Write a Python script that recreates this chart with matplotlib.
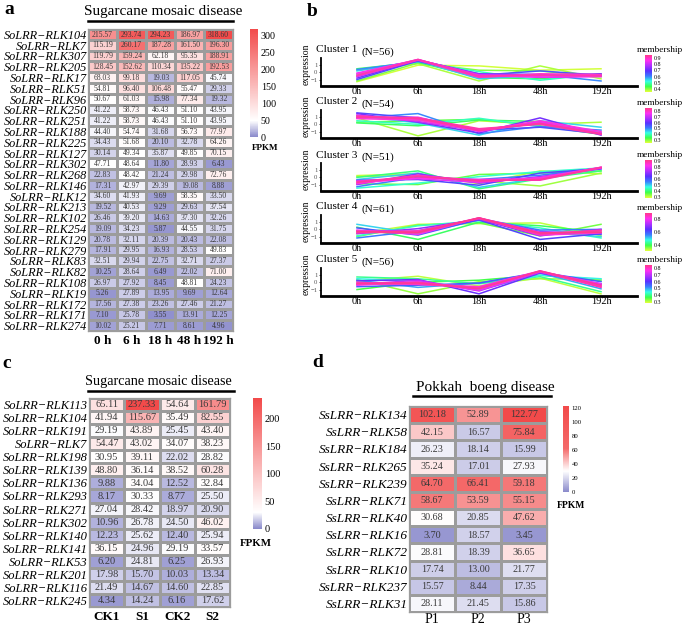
import matplotlib
matplotlib.use("Agg")
import matplotlib.pyplot as plt
import numpy as np
from matplotlib.colors import LinearSegmentedColormap, Normalize
from matplotlib.lines import Line2D

plt.rcParams['font.family'] = ['Liberation Serif', 'DejaVu Serif']

# ---------------- data ----------------
# panel a: Sugarcane mosaic disease time course (FPKM)
a_genes = ['SoLRR−RLK104', 'SoLRR−RLK7', 'SoLRR−RLK307', 'SoLRR−RLK205', 'SoLRR−RLK17',
           'SoLRR−RLK51', 'SoLRR−RLK96', 'SoLRR−RLK250', 'SoLRR−RLK251', 'SoLRR−RLK188',
           'SoLRR−RLK225', 'SoLRR−RLK127', 'SoLRR−RLK302', 'SoLRR−RLK268', 'SoLRR−RLK146',
           'SoLRR−RLK12', 'SoLRR−RLK213', 'SoLRR−RLK102', 'SoLRR−RLK254', 'SoLRR−RLK129',
           'SoLRR−RLK279', 'SoLRR−RLK83', 'SoLRR−RLK82', 'SoLRR−RLK108', 'SoLRR−RLK19',
           'SoLRR−RLK172', 'SoLRR−RLK171', 'SoLRR−RLK274']
a_times = ['0 h', '6 h', '18 h', '48 h', '192 h']
a_fpkm = [
    [215.57, 293.74, 294.23, 186.97, 318.60],
    [115.19, 260.17, 187.28, 161.50, 196.30],
    [119.79, 159.24, 62.18, 95.35, 188.91],
    [128.45, 152.62, 110.34, 135.22, 192.53],
    [68.03, 99.18, 19.03, 117.05, 45.74],
    [54.81, 96.40, 106.48, 55.47, 29.33],
    [50.67, 61.03, 15.98, 77.34, 19.32],
    [41.22, 58.73, 46.43, 51.10, 43.95],
    [41.22, 58.73, 46.43, 51.10, 43.95],
    [44.40, 54.74, 31.68, 56.73, 77.97],
    [34.43, 51.68, 20.10, 32.78, 64.26],
    [30.14, 49.34, 35.87, 49.85, 70.15],
    [47.71, 48.64, 11.80, 28.93, 6.43],
    [22.83, 48.42, 21.24, 29.98, 72.76],
    [17.31, 42.97, 29.39, 19.08, 8.88],
    [34.60, 41.93, 9.69, 58.35, 33.50],
    [19.52, 40.53, 9.29, 29.63, 37.54],
    [26.46, 39.20, 14.63, 37.30, 32.26],
    [19.09, 34.23, 5.87, 44.55, 31.75],
    [20.78, 32.11, 20.39, 20.43, 22.08],
    [17.91, 29.95, 16.93, 28.53, 49.83],
    [32.51, 29.94, 22.75, 32.71, 27.37],
    [10.25, 28.64, 6.49, 22.02, 71.00],
    [26.97, 27.92, 8.45, 48.81, 24.23],
    [5.26, 27.89, 13.95, 9.69, 12.64],
    [17.56, 27.38, 23.26, 27.46, 21.27],
    [7.10, 25.78, 3.55, 13.91, 12.25],
    [10.02, 25.21, 7.71, 8.61, 4.96],
]

# panel c: Sugarcane mosaic disease, control vs infected
c_genes = ['SoLRR−RLK113', 'SoLRR−RLK104', 'SoLRR−RLK191', 'SoLRR−RLK7', 'SoLRR−RLK198',
           'SoLRR−RLK139', 'SoLRR−RLK136', 'SoLRR−RLK293', 'SoLRR−RLK271', 'SoLRR−RLK302',
           'SoLRR−RLK140', 'SoLRR−RLK141', 'SoLRR−RLK53', 'SoLRR−RLK201', 'SoLRR−RLK116',
           'SoLRR−RLK245']
c_samples = ['CK1', 'S1', 'CK2', 'S2']
c_fpkm = [
    [65.11, 237.33, 54.64, 161.79],
    [41.94, 115.67, 35.49, 82.55],
    [29.19, 43.89, 25.45, 43.40],
    [54.47, 43.02, 34.07, 38.23],
    [30.95, 39.11, 22.02, 28.82],
    [48.80, 36.14, 38.52, 60.28],
    [9.88, 34.04, 12.52, 32.84],
    [8.17, 30.33, 8.77, 25.50],
    [27.04, 28.42, 18.97, 20.90],
    [10.96, 26.78, 24.50, 46.02],
    [12.23, 25.62, 12.40, 25.94],
    [36.15, 24.96, 29.19, 33.57],
    [6.20, 24.81, 6.25, 26.93],
    [17.98, 15.70, 10.03, 13.34],
    [21.49, 14.67, 14.60, 22.85],
    [4.34, 14.24, 6.16, 17.62],
]

# panel d: Pokkah boeng disease
d_genes = ['SsLRR−RLK134', 'SsLRR−RLK58', 'SsLRR−RLK184', 'SsLRR−RLK265', 'SsLRR−RLK239',
           'SsLRR−RLK71', 'SsLRR−RLK40', 'SsLRR−RLK16', 'SsLRR−RLK72', 'SsLRR−RLK10',
           'SsLRR−RLK237', 'SsLRR−RLK31']
d_samples = ['P1', 'P2', 'P3']
d_fpkm = [
    [102.18, 52.89, 122.77],
    [42.15, 16.57, 75.84],
    [26.23, 18.14, 15.99],
    [35.24, 17.01, 27.93],
    [64.70, 66.41, 59.18],
    [58.67, 53.59, 55.15],
    [30.68, 20.85, 47.62],
    [3.70, 18.57, 3.45],
    [28.81, 18.39, 36.65],
    [17.74, 13.00, 21.77],
    [15.57, 8.44, 17.35],
    [28.11, 21.45, 15.86],
]

# panel b: mfuzz clusters (representative profiles, standardised expression)
b_times = ['0h', '6h', '18h', '48h', '192h']
b_counts = [56, 54, 51, 61, 56]
b_ranges = [(0.35, 0.95), (0.25, 0.85), (0.28, 0.92), (0.30, 0.90), (0.28, 0.85)]
b_ticks = [[0.4, 0.5, 0.6, 0.7, 0.8, 0.9], [0.3, 0.4, 0.5, 0.6, 0.7, 0.8],
           [0.3, 0.4, 0.5, 0.6, 0.7, 0.8, 0.9], [0.4, 0.6, 0.8], [0.3, 0.4, 0.5, 0.6, 0.7, 0.8]]

cl1_lines = [[-0.4, 1.8, -0.5, -0.4, -0.5], [-0.2, 1.8, -0.6, -0.5, -0.5], [-0.6, 1.75, -0.3, -0.3, -0.55],
             [-0.8, 1.7, -0.2, -0.5, -0.2], [-1.0, 1.6, -0.4, 0.2, -0.4], [0.2, 1.6, -0.9, -0.4, -0.5],
             [-0.3, 1.5, 0.1, -1.1, -0.2], [0.5, 1.4, -0.7, -0.9, -0.3], [-1.2, 1.3, 0.3, 0.2, -0.6],
             [-1.3, 1.0, 0.9, 0.3, 0.5], [0.3, 1.2, -1.2, 0.9, -0.9], [-0.5, 1.7, -0.7, -0.2, -0.3],
             [-0.1, 1.75, -0.4, -0.7, -0.6], [0.4, 1.5, -0.2, -0.3, -1.2]]
cl1_member = [0.92, 0.87, 0.8, 0.72, 0.65, 0.56, 0.5, 0.45, 0.4, 0.36, 0.38, 0.9, 0.84, 0.6]

cl2_lines = [[1.0, 0.85, -0.85, 0.15, -1.3], [1.2, 0.7, -0.7, 0.1, -1.3], [0.9, 1.0, -1.0, 0.3, -1.2],
             [1.3, 0.4, -0.9, 0.4, -1.3], [1.5, 0.3, -1.2, 0.9, -1.5], [1.6, 0.9, -0.8, -0.4, -1.3],
             [0.9, 1.5, -1.3, -0.3, -0.8], [1.2, 0.2, -1.5, 0.5, -0.4], [0.5, 0.0, 0.85, -0.3, -1.1],
             [0.2, -0.2, 0.6, 0.4, -1.2], [0.9, -1.6, 0.5, 0.0, 0.3], [0.3, 0.5, 0.7, -0.2, -1.4],
             [1.1, 0.9, -0.6, 0.0, -1.4], [0.8, 0.6, -0.9, 0.5, -1.0]]
cl2_member = [0.83, 0.8, 0.75, 0.7, 0.62, 0.56, 0.5, 0.45, 0.4, 0.35, 0.28, 0.32, 0.82, 0.78]

cl3_lines = [[-0.7, 0.1, -0.5, -0.3, 1.4], [-0.9, 0.3, -0.6, -0.1, 1.3], [-0.5, -0.2, -0.7, 0.0, 1.4],
             [-1.0, 0.5, -0.8, 0.1, 1.2], [-0.4, -0.3, -1.1, 0.6, 1.2], [-1.3, 0.0, -0.3, 0.3, 1.3],
             [-0.3, 0.6, -1.4, -0.1, 1.2], [-1.5, -0.8, 0.1, 0.8, 1.3], [0.0, 0.9, -1.6, -0.2, 0.9],
             [-0.9, -1.0, 0.4, 0.6, 0.9], [0.25, 0.5, -0.9, 0.9, 0.5], [0.1, 0.3, -0.5, -1.2, 0.6],
             [-0.6, 0.2, -0.4, -0.4, 1.35], [-0.8, -0.1, -0.3, -0.2, 1.4]]
cl3_member = [0.9, 0.85, 0.8, 0.7, 0.62, 0.55, 0.5, 0.45, 0.4, 0.35, 0.3, 0.32, 0.88, 0.83]

cl4_lines = [[-0.3, -0.4, 1.6, -0.5, -0.4], [-0.5, -0.2, 1.5, -0.7, -0.1], [-0.1, -0.7, 1.6, -0.4, -0.4],
             [-0.6, 0.1, 1.4, -0.9, 0.0], [-0.2, -0.3, 1.3, -1.4, -0.6], [-1.2, -0.2, 1.5, -0.1, 0.0],
             [0.7, -0.6, 1.3, -0.4, -1.0], [-0.9, 0.5, 1.2, 0.2, -1.2], [0.3, -1.4, 1.0, 0.5, -0.4],
             [-1.0, 0.6, 0.9, -0.9, 0.7], [-0.6, 0.7, 0.8, 0.9, -0.9], [-0.4, -0.5, 1.55, -0.6, -0.2],
             [-0.2, -0.3, 1.6, -0.8, -0.5], [0.2, -0.8, 1.4, -0.3, -0.7]]
cl4_member = [0.9, 0.86, 0.8, 0.7, 0.62, 0.56, 0.5, 0.45, 0.4, 0.36, 0.32, 0.88, 0.84, 0.6]

cl5_lines = [[-0.2, -0.1, -0.9, 1.6, -0.4], [0.0, -0.3, -0.7, 1.5, -0.6], [-0.4, 0.1, -1.1, 1.5, -0.2],
             [-0.3, 0.3, -1.2, 1.4, -0.3], [0.2, 0.4, -1.6, 1.3, -0.2], [-0.6, -0.4, -0.1, 1.4, 0.1],
             [0.3, -0.7, -0.1, 1.3, -0.9], [0.5, 0.2, -1.0, 1.0, 0.5], [0.75, 0.5, -0.2, 0.8, -1.3],
             [-1.0, 0.0, 0.3, 1.0, 0.2], [0.2, 0.85, -0.5, 0.6, -1.6], [0.4, -1.6, 0.1, 0.5, 0.4],
             [-0.1, 0.0, -0.8, 1.55, -0.7], [-0.3, -0.2, -0.6, 1.6, -0.5]]
cl5_member = [0.84, 0.8, 0.75, 0.7, 0.62, 0.56, 0.5, 0.45, 0.4, 0.36, 0.3, 0.32, 0.82, 0.78]

b_lines = [cl1_lines, cl2_lines, cl3_lines, cl4_lines, cl5_lines]
b_member = [cl1_member, cl2_member, cl3_member, cl4_member, cl5_member]

# ---------------- layout helpers (pixel coords, origin top-left) ----------------
W, H = 685, 625
fig = plt.figure(figsize=(W / 100, H / 100), dpi=100)


def box(x0, y0, x1, y1):
    return [x0 / W, 1 - y1 / H, (x1 - x0) / W, (y1 - y0) / H]


def ftext(x, y, s, **kw):
    fig.text(x / W, 1 - y / H, s, **kw)


def underline(x0, x1, y, lw=1.8):
    fig.add_artist(Line2D([x0 / W, x1 / W], [1 - y / H, 1 - y / H],
                          transform=fig.transFigure, color='k', lw=lw))


LOW, WHITE, HIGH = '#8a8acb', '#ffffff', '#f24a4a'


def heat_cmap(vmax, mid, extra=None):
    nodes = [(0.0, LOW), (mid / vmax, WHITE)]
    if extra:
        nodes += [(v / vmax, c) for v, c in extra]
    nodes.append((1.0, HIGH))
    return LinearSegmentedColormap.from_list('h', nodes)


def heatmap(rect, data, rows, cols, cmap, vmax, cell_fs, row_fs, col_fs, col_bold, col_pad):
    ax = fig.add_axes(rect)
    arr = np.array(data)
    norm = Normalize(0, vmax)
    mesh = ax.pcolormesh(arr, cmap=cmap, norm=norm, edgecolors='#9c9c9c', linewidth=0.9)
    ax.set_xlim(0, arr.shape[1])
    ax.set_ylim(arr.shape[0], 0)
    for i in range(arr.shape[0]):
        for j in range(arr.shape[1]):
            ax.text(j + 0.5, i + 0.52, f'{arr[i, j]:.2f}', ha='center', va='center',
                    fontsize=cell_fs, color='#3a3a3a')
    ax.set_yticks(np.arange(arr.shape[0]) + 0.5)
    ax.set_yticklabels(rows, fontsize=row_fs, fontstyle='italic')
    ax.set_xticks(np.arange(arr.shape[1]) + 0.5)
    ax.set_xticklabels(cols, fontsize=col_fs, fontweight='bold' if col_bold else 'normal')
    ax.tick_params(axis='y', length=0, pad=1)
    ax.tick_params(axis='x', length=0, pad=col_pad)
    for s in ax.spines.values():
        s.set_color('#9c9c9c')
        s.set_linewidth(0.9)
    return mesh


def heat_colorbar(mesh, rect, ticks, fs):
    cax = fig.add_axes(rect)
    cb = fig.colorbar(mesh, cax=cax, ticks=ticks)
    cb.outline.set_visible(False)
    cax.tick_params(length=0, labelsize=fs, pad=2)
    return cb


# ---------------- panel a ----------------
ftext(9, 10, 'a', fontsize=14, fontweight='bold', ha='center', va='center')
ftext(163, 12, 'Sugarcane mosaic disease', fontsize=11, ha='center', va='center')
underline(88, 233, 21)
cmap_a = heat_cmap(318.6, 48)
mesh_a = heatmap(box(88, 29, 233, 331), a_fpkm, a_genes, a_times, cmap_a, 318.6,
                 5.5, 8.8, 9.5, True, 3)
heat_colorbar(mesh_a, box(250, 29, 258, 137), [0, 50, 100, 150, 200, 250, 300], 7.2)
ftext(265, 148, 'FPKM', fontsize=6.5, fontweight='bold', ha='center', va='center')

# ---------------- panel c ----------------
ftext(7, 364, 'c', fontsize=14, fontweight='bold', ha='center', va='center')
ftext(158, 382, 'Sugarcane mosaic disease', fontsize=10.2, ha='center', va='center')
underline(88, 234, 391)
cmap_c = heat_cmap(237.33, 30)
mesh_c = heatmap(box(89, 398, 230, 607), c_fpkm, c_genes, c_samples, cmap_c, 237.33,
                 7.5, 9, 9.5, True, 3)
heat_colorbar(mesh_c, box(253, 398, 262, 529), [0, 50, 100, 150, 200], 7.5)
ftext(256, 543, 'FPKM', fontsize=7.8, fontweight='bold', ha='center', va='center')

# ---------------- panel d ----------------
ftext(318, 362, 'd', fontsize=14, fontweight='bold', ha='center', va='center')
ftext(485, 387, 'Pokkah  boeng disease', fontsize=11, ha='center', va='center')
underline(413, 551, 396)
cmap_d = heat_cmap(122.77, 30, extra=[(62, '#f46a6a')])
mesh_d = heatmap(box(409, 406, 547, 612), d_fpkm, d_genes, d_samples, cmap_d, 122.77,
                 7.3, 9.5, 10, False, 1)
heat_colorbar(mesh_d, box(563, 406, 569, 492), [0, 20, 40, 60, 80, 100, 120], 4.8)
ftext(571, 505, 'FPKM', fontsize=6.9, fontweight='bold', ha='center', va='center')

# ---------------- panel b ----------------
ftext(312, 11, 'b', fontsize=14, fontweight='bold', ha='center', va='center')
mem_cmap = LinearSegmentedColormap.from_list(
    'mem', ['#e4ff3a', '#3cff4a', '#35ffe6', '#3a7dff', '#5a30ff', '#b030ff', '#ff30f0', '#ff3a8c'])
axis_bottoms = [86, 138, 191, 243, 296]
cb_spans = [(55, 92), (108, 143), (160, 198), (213, 251), (265, 303)]

for k in range(5):
    yb = axis_bottoms[k]
    ax = fig.add_axes(box(321, yb - 28, 637, yb))
    lo, hi = b_ranges[k]
    norm = Normalize(lo, hi)
    order = np.argsort(b_member[k])
    for idx in order:
        ax.plot(range(5), b_lines[k][idx], color=mem_cmap(norm(b_member[k][idx])), lw=1.1,
                solid_joinstyle='miter')
    ax.set_xlim(-0.59, 4.59)
    ax.set_ylim(-1.9, 2.0)
    ax.set_xticks(range(5))
    ax.set_xticklabels(b_times, fontsize=7.5)
    ax.set_yticks([-1, 0, 1])
    ax.set_yticklabels(['−1', '0', '1'], fontsize=4.8, color='#555555')
    ax.tick_params(axis='x', length=0, pad=1)
    ax.tick_params(axis='y', length=1.5, width=0.5, pad=1)
    ax.spines['top'].set_visible(False)
    ax.spines['right'].set_visible(False)
    ax.spines['bottom'].set_linewidth(2)
    ax.spines['left'].set_linewidth(1.3)
    ax.patch.set_alpha(0)

    ftext(316, yb - 36, f'Cluster {k + 1}', fontsize=8.1, ha='left', va='center')
    ftext(362, yb - 34, f'(N={b_counts[k]})', fontsize=8, ha='left', va='center')
    ftext(306, yb - 22, 'expression', fontsize=6.9, rotation=90, ha='center', va='center')

    c0, c1 = cb_spans[k]
    cax = fig.add_axes(box(645, c0, 652, c1))
    grad = np.linspace(lo, hi, 100).reshape(-1, 1)
    cax.imshow(grad, aspect='auto', origin='lower', cmap=mem_cmap, norm=norm,
               extent=[0, 1, lo, hi])
    cax.set_xticks([])
    cax.yaxis.tick_right()
    cax.set_yticks(b_ticks[k])
    cax.set_yticklabels([f'{t:.1f}' for t in b_ticks[k]], fontsize=4.3)
    cax.tick_params(axis='y', length=0, pad=1)
    for s in cax.spines.values():
        s.set_visible(False)
    ftext(637, c0 - 5, 'membership', fontsize=6.7, ha='left', va='center')

fig.savefig('out.png', dpi=100)
